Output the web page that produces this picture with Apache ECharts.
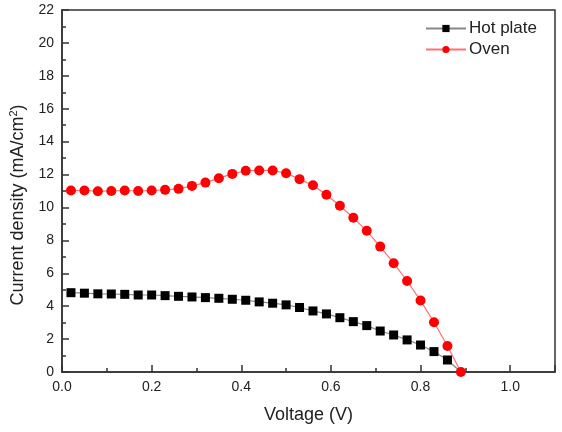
<!DOCTYPE html>
<html><head><meta charset="utf-8">
<script src="https://cdn.jsdelivr.net/npm/echarts@6/dist/echarts.min.js"></script>
<style>html,body{margin:0;padding:0;background:#fff}#c{width:562px;height:432px}</style>
</head><body><div id="c"></div>
<script>
const voltage = [0.02,0.05,0.08,0.11,0.14,0.17,0.20,0.23,0.26,0.29,0.32,0.35,0.38,0.41,0.44,0.47,0.50,0.53,0.56,0.59,0.62,0.65,0.68,0.71,0.74,0.77,0.80,0.83,0.86,0.89];
const hotPlate = [4.82,4.79,4.75,4.74,4.72,4.68,4.68,4.64,4.60,4.56,4.52,4.48,4.42,4.36,4.26,4.18,4.08,3.92,3.71,3.53,3.30,3.06,2.82,2.49,2.25,1.95,1.64,1.24,0.73];
const hotPlateEnd = [0.89, 0];
const oven = [11.03,11.03,10.99,11.00,11.03,11.00,11.03,11.07,11.13,11.31,11.51,11.78,12.04,12.23,12.25,12.25,12.08,11.72,11.35,10.77,10.10,9.37,8.58,7.62,6.61,5.53,4.34,3.02,1.58,0.0];
const xTicks = {min:0, max:1.1, interval:0.2};
const yTicks = {min:0, max:22, interval:2};

const hotData = hotPlate.map((v,i)=>[voltage[i], v]);
hotData.push({value: hotPlateEnd, symbol:'none'});
const ovenData = oven.map((v,i)=>[voltage[i], v]);

const font = '"Liberation Sans", Arial, sans-serif';
const chart = echarts.init(document.getElementById('c'), null, {renderer:'canvas'});
chart.setOption({
  animation:false,
  backgroundColor:'#fff',
  grid:{left:62,right:7,top:10,bottom:60,show:true,borderColor:'#333',borderWidth:1.5,backgroundColor:'transparent'},
  legend:{
    orient:'vertical', right:20, top:15, itemWidth:40, itemHeight:9, itemGap:4,
    textStyle:{fontFamily:font,fontSize:17,color:'#222',padding:[0,0,0,-2]},
    data:['Hot plate','Oven']
  },
  xAxis:{
    type:'value', min:xTicks.min, max:xTicks.max, interval:xTicks.interval,
    name:'Voltage (V)', nameLocation:'middle', nameGap:34,
    nameTextStyle:{fontFamily:font,fontSize:18,color:'#222'},
    axisLine:{show:true,lineStyle:{color:'#333',width:1.5}},
    axisTick:{show:true,inside:true,length:7,lineStyle:{color:'#333',width:1.5}},
    minorTick:{show:true,splitNumber:2,length:4,lineStyle:{color:'#333',width:1.5}},
    splitLine:{show:false},
    axisLabel:{fontFamily:font,fontSize:14,color:'#222',margin:8,
      formatter:v=> v>1.05 ? '' : v.toFixed(1)}
  },
  yAxis:{
    type:'value', min:yTicks.min, max:yTicks.max, interval:yTicks.interval,
    name:'Current density (mA/cm{sup|2})', nameLocation:'middle', nameGap:29,
    nameTextStyle:{fontFamily:font,fontSize:18,color:'#222',padding:[0,28,0,0],
      rich:{sup:{fontFamily:font,fontSize:11,color:'#222',verticalAlign:'top',padding:[0,0,9,0]}}},
    axisLine:{show:true,lineStyle:{color:'#333',width:1.5}},
    axisTick:{show:true,inside:true,length:7,lineStyle:{color:'#333',width:1.5}},
    minorTick:{show:true,splitNumber:2,length:4,lineStyle:{color:'#333',width:1.5}},
    splitLine:{show:false},
    axisLabel:{fontFamily:font,fontSize:14,color:'#222',margin:8}
  },
  series:[
    {name:'Hot plate', type:'line', data:hotData, symbol:'rect', symbolSize:9,
     itemStyle:{color:'#000'}, lineStyle:{color:'#888',width:1.2}, clip:false},
    {name:'Oven', type:'line', data:ovenData, symbol:'circle', symbolSize:10,
     itemStyle:{color:'#ff0000'}, lineStyle:{color:'#ff7070',width:1.2}, clip:false}
  ]
});
</script></body></html>
